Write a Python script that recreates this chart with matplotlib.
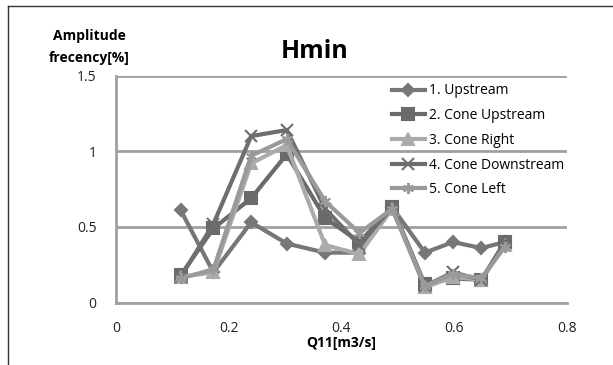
import matplotlib
matplotlib.use("Agg")
import matplotlib.pyplot as plt
from matplotlib.lines import Line2D

plt.rcParams['font.family'] = ['Open Sans', 'DejaVu Sans']

q11 = [0.115, 0.173, 0.240, 0.303, 0.371, 0.432, 0.490, 0.548, 0.598, 0.648, 0.690]
upstream = [0.61, 0.20, 0.53, 0.39, 0.33, 0.33, 0.63, 0.33, 0.40, 0.36, 0.40]
cone_upstream = [0.18, 0.49, 0.69, 0.98, 0.56, 0.40, 0.63, 0.12, 0.16, 0.15, 0.40]
cone_right = [0.17, 0.20, 0.92, 1.04, 0.38, 0.32, 0.62, 0.10, 0.17, 0.15, 0.38]
cone_downstream = [0.17, 0.52, 1.10, 1.14, 0.62, 0.38, 0.63, 0.11, 0.20, 0.15, 0.40]
cone_left = [0.16, 0.22, 0.97, 1.08, 0.67, 0.46, 0.62, 0.11, 0.19, 0.16, 0.37]

labels = ["1. Upstream", "2. Cone Upstream", "3. Cone Right",
          "4. Cone Downstream", "5. Cone Left"]
series = [upstream, cone_upstream, cone_right, cone_downstream, cone_left]
colors = ["#777777", "#6a6a6a", "#ababab", "#6e6e6e", "#9a9a9a"]
markers = ["D", "s", "^", "x", (6, 2, 0)]
msizes = [6, 9, 8, 8, 8]

fig = plt.figure(figsize=(6.13, 3.65), dpi=100)
ax = fig.add_axes([0.189, 0.171, 0.736, 0.622])

for y, lab, c, m, ms in zip(series, labels, colors, markers, msizes):
    ax.plot(q11, y, color=c, lw=3, marker=m, ms=ms, mfc=c, mec=c, mew=1.5,
            label=lab, zorder=3)

ax.set_xlim(0, 0.8)
ax.set_ylim(0, 1.5)
ax.set_xticks([0, 0.2, 0.4, 0.6, 0.8])
ax.set_xticklabels(["0", "0.2", "0.4", "0.6", "0.8"])
ax.set_yticks([0, 0.5, 1, 1.5])
ax.set_yticklabels(["0", "0.5", "1", "1.5"])
ax.tick_params(length=0, labelsize=10, colors="#222222")
ax.tick_params(axis='x', pad=13)
ax.tick_params(axis='y', pad=14)
ax.grid(axis='y', color="#a0a0a0", lw=2)
ax.set_axisbelow(True)
for s in ["top", "right"]:
    ax.spines[s].set_visible(False)
ax.spines["left"].set_color("#a0a0a0")
ax.spines["left"].set_linewidth(2)
ax.spines["bottom"].set_color("#a0a0a0")
ax.spines["bottom"].set_linewidth(2)

ax.set_xlabel("Q11[m3/s]", fontsize=10, fontweight="bold", labelpad=0)

leg = ax.legend(loc="upper left", bbox_to_anchor=(0.59, 1.008), frameon=False,
                fontsize=10, handlelength=2.4, handletextpad=0.3,
                labelspacing=0.7, borderaxespad=0.3)

fig.text(315 / 613, 1 - 51 / 365, "Hmin", ha="center", va="center",
         fontsize=18, fontweight="bold")
fig.text(89 / 613, 1 - 47 / 365, "Amplitude\nfrecency[%]", ha="center",
         va="center", fontsize=10, fontweight="bold", linespacing=1.65)

fig.add_artist(Line2D([8 / 613, 8 / 613], [0, 1 - 6 / 365],
                      transform=fig.transFigure, color="#333333", lw=1))
fig.add_artist(Line2D([8 / 613, 1], [1 - 6 / 365, 1 - 6 / 365],
                      transform=fig.transFigure, color="#333333", lw=1))

fig.savefig("out.png", dpi=100)
